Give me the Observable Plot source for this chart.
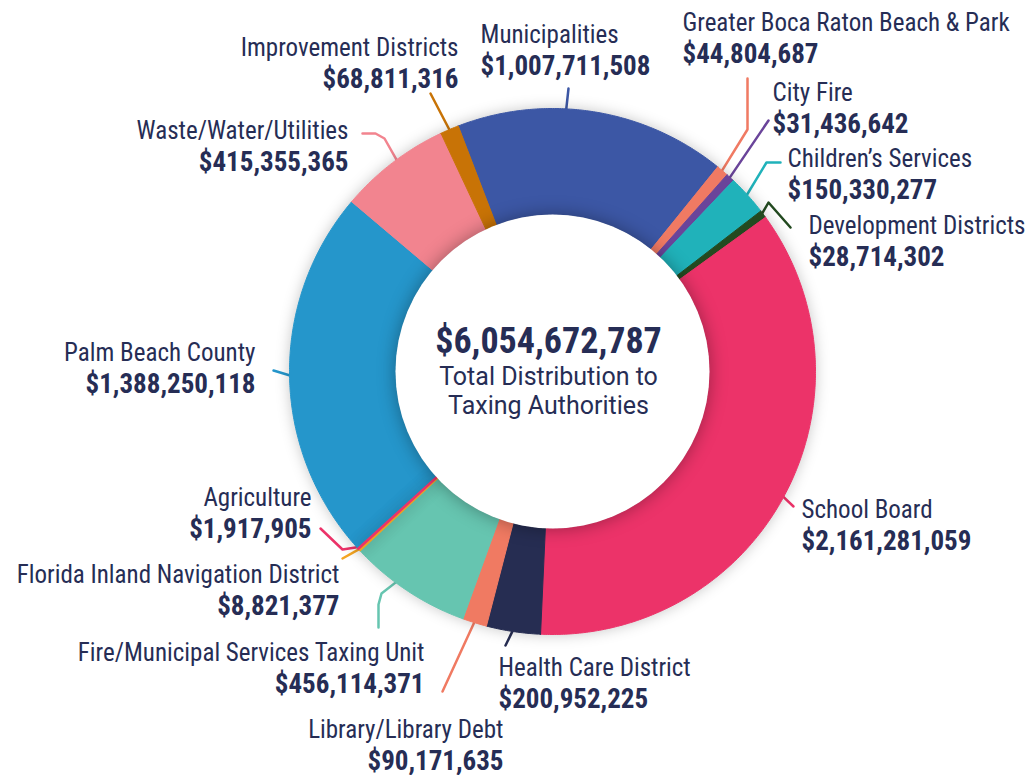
<!DOCTYPE html>
<html><head><meta charset="utf-8">
<script src="https://cdn.jsdelivr.net/npm/d3@7"></script>
<script src="https://cdn.jsdelivr.net/npm/@observablehq/plot@0.6"></script>
<style>
html,body{margin:0;padding:0;background:#fff;}
#chart svg{display:block;}
g[aria-description="ring"]{filter:drop-shadow(0 0 7px rgba(0,0,0,0.22));}
g[aria-description="hole"]{filter:drop-shadow(0 0 9px rgba(0,0,0,0.35));}
</style></head><body><div id="chart"></div>
<script>
// ---- data (clockwise from Municipalities) ----
const names = ["Municipalities","Greater Boca Raton Beach & Park","City Fire","Children\u2019s Services","Development Districts","School Board","Health Care District","Library/Library Debt","Fire/Municipal Services Taxing Unit","Florida Inland Navigation District","Agriculture","Palm Beach County","Waste/Water/Utilities","Improvement Districts"];
const values = [1007711508,44804687,31436642,150330277,28714302,2161281059,200952225,90171635,456114371,8821377,1917905,1388250118,415355365,68811316];
const colors = ["#3c57a5","#f07a63","#6a449a","#20b2ba","#234a20","#ec3369","#262d52","#f07a62","#66c5b0","#f5a623","#ec3369","#2596cb","#f2848f","#c87306"];
const centerLines = ["Total Distribution to","Taxing Authorities"];

// ---- layout ----
const W = 1031, H = 775, CX = 552, CY = 371, R_OUT = 263, R_IN = 157, START_DEG = -21;
const TEXT = "#262d55";
const labelX = [480,682,772,787,808,801,498,503,424,339,311,255,348,458];
const labelY = [42,30,100,166,233,517,675,737,660,582,505,360,138,55];
const labelAnchor = ["start","start","start","start","start","start","start","end","end","end","end","end","end","end"];
const leaderAttach = [0.40,0.5,0.5,0.5,0.5,0.5,0.5,0.5,0.61,0.5,0.5,0.5,0.54,0.5];
const sliceStroke = [1,1,1,1,1,1,1,1,1,1.3,2.2,1,1,1];
const leaderPts = [
  [[568,88]],
  [[747,129],[747,78]],
  [[768,120]],
  [[766,162],[780,162]],
  [[768,202],[790,227]],
  [[793,506]],
  [[505,645]],
  [[442,691]],
  [[381,593],[378,604],[378,627]],
  [[342,558]],
  [[342,549],[320,528]],
  [[273,370]],
  [[384,138],[375,133],[362,133]],
  [[430,93]]
];

const slices = names.map((name,i)=>({name, value: values[i], color: colors[i], i}));
const a0 = START_DEG*Math.PI/180;
const arcs = d3.pie().sort(null).value(d=>d.value).startAngle(a0).endAngle(a0+2*Math.PI)(slices);
const pt = (a,r)=>[CX + r*Math.sin(a), CY - r*Math.cos(a)];

const ringPts = arcs.flatMap(a=>{
  const n = Math.max(2, Math.ceil((a.endAngle-a.startAngle)/(Math.PI/360)));
  const ts = d3.range(n+1).map(k=>a.startAngle+(a.endAngle-a.startAngle)*k/n);
  const outer = ts.map(t=>pt(t,R_OUT));
  const inner = ts.slice().reverse().map(t=>pt(t,R_IN));
  return [...outer,...inner,outer[0]].map(([x,y])=>({name:a.data.name,color:a.data.color,sw:sliceStroke[a.data.i],x,y}));
});

const leaders = arcs.flatMap(a=>{
  const i = a.data.i;
  const t = a.startAngle + (a.endAngle-a.startAngle)*leaderAttach[i];
  const p0 = pt(t, R_OUT-3);
  return [p0,...leaderPts[i]].map(([x,y])=>({name:a.data.name,color:a.data.color,x,y}));
});

const fmt = d3.format("$,");
const labels = slices.map(s=>({name:s.name, value:fmt(s.value), x:labelX[s.i], y:labelY[s.i], anchor:labelAnchor[s.i]}));
const total = fmt(d3.sum(values));
const center = [{x:CX-4, y:CY}];

const NAMEFONT = "'Roboto Condensed',sans-serif";
const textMarks = [];
for (const anc of ["start","end"]) {
  const f = d=>d.anchor===anc;
  textMarks.push(Plot.text(labels,{filter:f,x:"x",y:"y",text:"name",textAnchor:anc,lineAnchor:"bottom",fontSize:25,fontFamily:NAMEFONT,fill:TEXT}));
  textMarks.push(Plot.text(labels,{filter:f,x:"x",y:d=>d.y+32,text:"value",textAnchor:anc,lineAnchor:"bottom",fontSize:27,fontWeight:"bold",fontFamily:NAMEFONT,fill:TEXT}));
}

const ringMarks = [1, 1.3, 2.2].map(w =>
  Plot.line(ringPts,{filter:d=>d.sw===w,x:"x",y:"y",z:"name",fill:"color",stroke:"color",strokeWidth:w,ariaDescription:"ring"}));

const chart = Plot.plot({
  width: W, height: H, margin: 0,
  x: {domain:[0,W], range:[0,W], axis:null},
  y: {domain:[0,H], range:[0,H], axis:null},
  color: {type:"identity"},
  style: {background:"#fff"},
  marks: [
    Plot.line(leaders,{x:"x",y:"y",z:"name",stroke:"color",strokeWidth:2.5,strokeLinejoin:"round",ariaDescription:"leaders"}),
    ...ringMarks,
    Plot.dot([{x:CX,y:CY}],{x:"x",y:"y",r:R_IN,fill:"#fff",stroke:"none",ariaDescription:"hole"}),
    ...textMarks,
    Plot.text(center,{x:"x",y:d=>d.y-19,text:()=>total,lineAnchor:"bottom",fontSize:36,fontWeight:"bold",fontFamily:NAMEFONT,fill:TEXT}),
    Plot.text(center,{x:"x",y:d=>d.y+13,text:()=>centerLines[0],lineAnchor:"bottom",fontSize:25,fontFamily:"Roboto,sans-serif",fill:TEXT}),
    Plot.text(center,{x:"x",y:d=>d.y+42,text:()=>centerLines[1],lineAnchor:"bottom",fontSize:25,fontFamily:"Roboto,sans-serif",fill:TEXT})
  ]
});
document.getElementById("chart").appendChild(chart);
</script></body></html>
